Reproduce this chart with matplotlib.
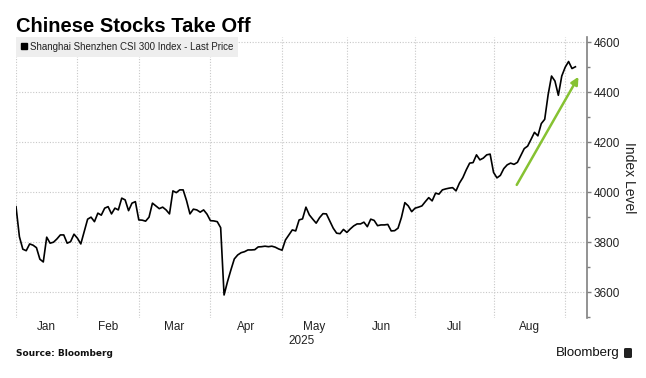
import numpy as np
import matplotlib
matplotlib.use("Agg")
import matplotlib.pyplot as plt
from matplotlib.lines import Line2D
from matplotlib.patches import FancyBboxPatch

# ── Data: CSI 300 close, one value per trading day (31 Dec 2024 .. 3 Sep 2025) ──
close = [
    3943, 3823, 3773, 3767, 3794, 3789, 3779, 3733, 3722, 3821,
    3797, 3801, 3814, 3830, 3830, 3797, 3803, 3833, 3817, 3794,
    3843, 3893, 3901, 3883, 3917, 3909, 3937, 3943, 3914, 3937,
    3930, 3977, 3970, 3927, 3957, 3963, 3890, 3889, 3885, 3901,
    3957, 3946, 3935, 3941, 3930, 3914, 4006, 3999, 4010, 4010,
    3967, 3914, 3933, 3930, 3921, 3930, 3913, 3887, 3886, 3883,
    3859, 3590, 3643, 3690, 3734, 3750, 3759, 3763, 3770, 3770,
    3771, 3782, 3783, 3785, 3783, 3785, 3781, 3774, 3769, 3810,
    3830, 3850, 3846, 3890, 3894, 3941, 3910, 3893, 3877, 3899,
    3915, 3914, 3885, 3857, 3837, 3835, 3852, 3840, 3854, 3866,
    3874, 3874, 3881, 3863, 3893, 3888, 3867, 3870, 3870, 3872,
    3846, 3847, 3857, 3900, 3959, 3946, 3923, 3937, 3941, 3946,
    3963, 3979, 3966, 3997, 3993, 4010, 4014, 4017, 4019, 4006,
    4037, 4059, 4090, 4117, 4119, 4150, 4130, 4137, 4150, 4153,
    4080, 4058, 4068, 4095, 4110, 4117, 4112, 4120, 4148, 4175,
    4185, 4212, 4240, 4226, 4275, 4292, 4390, 4465, 4445, 4388,
    4465, 4500, 4523, 4495, 4502,
]

# index of the first trading day of each month
month_start = [1, 19, 37, 58, 79, 98, 118, 141, 162]
month_labels = ["Jan", "Feb", "Mar", "Apr", "May", "Jun", "Jul", "Aug"]
year_label = "2025"

y_ticks = [3600, 3800, 4000, 4200, 4400, 4600]

# green "take off" arrow (trading-day index, index level)
ARROW_FROM = (146.8, 4030)
ARROW_TO = (164.9, 4462)

# ── Style ───────────────────────────────────────────────────────────────────
FONT = "Liberation Sans"
GRID_C = "#c8c8c8"
AXIS_C = "#808080"
GREEN = "#86c232"
TXT_C = "#222222"

fig = plt.figure(figsize=(6.46, 3.78), dpi=100)
ax = fig.add_axes([16 / 646, 1 - 318 / 378, (587 - 16) / 646, (318 - 37) / 378])

x = np.arange(len(close))
ax.plot(x, close, color="black", lw=1.2, zorder=3)

ax.set_xlim(0, 167.4)
ax.set_ylim(3498, 4621)

# month boundaries sit on the last trading day of the previous month
bounds = [m - 1 for m in month_start]
ax.set_xticks(bounds)
ax.set_xticklabels([])
mids = [(a + b) / 2 for a, b in zip(bounds[:-1], bounds[1:])]
ax.set_xticks(mids, minor=True)
ax.set_xticklabels(month_labels, minor=True, family=FONT, fontsize=8.5, color=TXT_C)
ax.tick_params(axis="x", which="both", length=0, pad=2)

ax.yaxis.tick_right()
ax.set_yticks(y_ticks)
ax.set_yticklabels([str(v) for v in y_ticks], family=FONT, fontsize=8.5, color=TXT_C)
ax.set_yticks(np.arange(3500, 4650, 100), minor=True)
ax.tick_params(axis="y", which="major", length=3, width=1, color=AXIS_C, pad=1.5)
ax.tick_params(axis="y", which="minor", length=2, width=1, color=AXIS_C)

ax.grid(True, which="major", ls=(0, (1, 1.5)), color=GRID_C, lw=0.8)
for side in ("top", "left", "bottom"):
    ax.spines[side].set_visible(False)
ax.spines["right"].set_color(AXIS_C)
ax.spines["right"].set_linewidth(1.2)

ax.yaxis.set_label_position("right")
ax.set_ylabel("Index Level", rotation=270, family=FONT, fontsize=10,
              color=TXT_C, labelpad=12)

ax.text(0.5, -0.06, year_label, transform=ax.transAxes, ha="center", va="top",
        family=FONT, fontsize=8.5, color=TXT_C)

# arrow
ax.annotate("", xy=ARROW_TO, xytext=ARROW_FROM,
            arrowprops=dict(arrowstyle="-|>", color=GREEN, lw=1.8,
                            mutation_scale=11, shrinkA=0, shrinkB=0), zorder=4)

# legend box
handle = Line2D([], [], marker="s", color="black", ls="", markersize=4.5)
leg = ax.legend([handle], ["Shanghai Shenzhen CSI 300 Index - Last Price"],
                loc="upper left", bbox_to_anchor=(0, 1), borderaxespad=0,
                prop={"family": FONT, "size": 7}, handlelength=0.6,
                handletextpad=0.3, borderpad=0.5, fancybox=False,
                facecolor="#eeeeee", edgecolor="none", framealpha=1)
for t in leg.get_texts():
    t.set_color(TXT_C)

# titles and footer
fig.text(16 / 646, 1 - 32 / 378, "Chinese Stocks Take Off", ha="left", va="baseline",
         family=FONT, fontweight="bold", fontsize=14.5)
fig.text(16 / 646, 1 - 353 / 378, "Source: Bloomberg", ha="left", va="center",
         family="DejaVu Sans", fontweight="bold", fontsize=6.5, color="#111111")
fig.text(620 / 646, 1 - 353 / 378, "Bloomberg", ha="right", va="center",
         family=FONT, fontsize=9.5, color="#111111")
fig.patches.append(FancyBboxPatch((624 / 646, 1 - 358 / 378), 8 / 646, 10 / 378,
                                  boxstyle="round,pad=0,rounding_size=0.003",
                                  transform=fig.transFigure, facecolor="#222222",
                                  edgecolor="none"))

fig.savefig("out.png", dpi=100)
